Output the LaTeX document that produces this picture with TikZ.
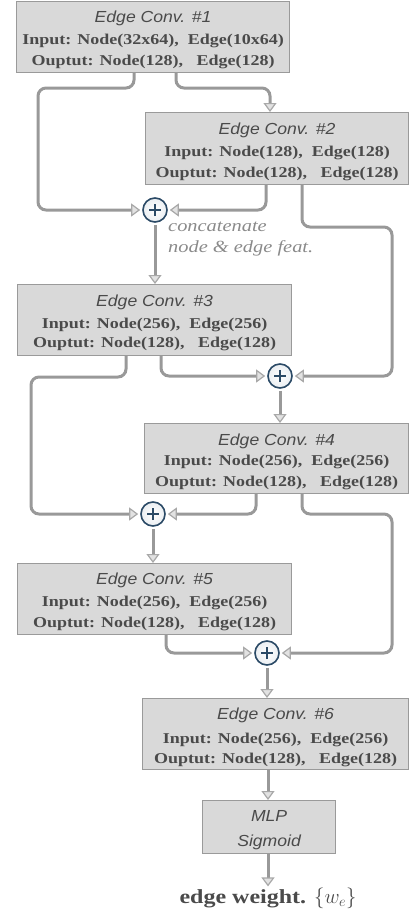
\documentclass[tikz,border=0pt]{standalone}
\usepackage{fontspec}
\setmainfont{Liberation Serif}
\setsansfont{Liberation Sans}
\newfontfamily\contfont[FakeStretch=1.2]{Liberation Serif}
\newfontfamily\titlefont[FakeStretch=1.1]{Liberation Sans}
\usetikzlibrary{arrows.meta,calc}
\definecolor{boxfill}{HTML}{D9D9D9}
\definecolor{boxline}{HTML}{9A9A9A}
\definecolor{connc}{HTML}{999999}
\definecolor{tipfill}{HTML}{E2E2E2}
\definecolor{tipline}{HTML}{A8A8A8}
\definecolor{txt}{HTML}{4A4A4A}
\definecolor{notec}{HTML}{8A8A8A}
\definecolor{plusline}{HTML}{2B4A66}
\definecolor{plusfill}{HTML}{DCE5EE}
\newcommand{\ttl}[1]{{\titlefont\itshape\mdseries\fontsize{16}{18}\selectfont\rule{0pt}{17.5pt}#1}}
\tikzset{
  layer/.style={draw=boxline, fill=boxfill, line width=1.2pt, inner sep=0pt,
    anchor=north west, align=center, text=txt,
    font=\contfont\fontsize{15}{21}\selectfont\bfseries},
  conn/.style={draw=connc, line width=3pt, rounded corners=8pt,
    -{Triangle[length=9pt,width=13pt,fill=tipfill,color=tipline,line width=1.2pt]}},
  plus/.style={circle, draw=plusline, line width=1.6pt, inner color=white,
    outer color=plusfill!80!plusline!30, minimum size=24pt, inner sep=0pt,
    path picture={
      \draw[plusline, line width=2.8pt]
        ([xshift=-6pt]path picture bounding box.center) -- ([xshift=6pt]path picture bounding box.center)
        ([yshift=-6pt]path picture bounding box.center) -- ([yshift=6pt]path picture bounding box.center);}},
}
\begin{document}
\begin{tikzpicture}[x=1pt,y=-1pt]
\useasboundingbox (0,0) rectangle (409,911);

\node[layer, minimum width=273pt, minimum height=71pt] (b1) at (16,1)
  {\ttl{Edge Conv. \#1}\\[1pt] Input: Node(32x64),\ \ Edge(10x64)\\ Ouptut: Node(128),\ \ \ Edge(128)};
\node[layer, minimum width=263pt, minimum height=72pt] (b2) at (145,112)
  {\ttl{Edge Conv. \#2}\\[1pt] Input: Node(128),\ \ Edge(128)\\ Ouptut: Node(128),\ \ \ Edge(128)};
\node[layer, minimum width=274pt, minimum height=71pt] (b3) at (17,284)
  {\ttl{Edge Conv. \#3}\\[1pt] Input: Node(256),\ \ Edge(256)\\[-2pt] Ouptut: Node(128),\ \ \ Edge(128)};
\node[layer, minimum width=264pt, minimum height=70pt] (b4) at (144,423)
  {\ttl{Edge Conv. \#4}\\[-1pt] Input: Node(256),\ \ Edge(256)\\ Ouptut: Node(128),\ \ \ Edge(128)};
\node[layer, minimum width=274pt, minimum height=71pt] (b5) at (17,563)
  {\ttl{Edge Conv. \#5}\\[1pt] Input: Node(256),\ \ Edge(256)\\ Ouptut: Node(128),\ \ \ Edge(128)};
\node[layer, minimum width=266pt, minimum height=71pt] (b6) at (142,698)
  {\ttl{Edge Conv. \#6}\\[3pt] Input: Node(256),\ \ Edge(256)\\[-1pt] Ouptut: Node(128),\ \ \ Edge(128)};
\node[layer, minimum width=133pt, minimum height=53pt] (mlp) at (202,800)
  {\ttl{MLP}\\[4pt] \ttl{Sigmoid}};

\node[plus] (p1) at (155,210) {};
\node[plus] (p2) at (280,376) {};
\node[plus] (p3) at (153,514) {};
\node[plus] (p4) at (267,653) {};

\node[anchor=north west, align=left, text=notec, inner sep=0pt,
  font=\contfont\fontsize{17}{21}\selectfont\itshape] (note) at (168,222)
  {concatenate\\ node \& edge feat.};

\node[text=txt, inner sep=0pt, font=\contfont\fontsize{20}{22}\selectfont\bfseries] (out) at (268,898)
  {edge weight. $\{w_e\}$};

% connectors
\draw[conn, shorten >=2pt] (134,0 |- b1.south) -- (134,88) -- (38,88) -- (38,210) -- (p1.west);
\draw[conn] (176,0 |- b1.south) -- (176,88) -- (270,88) -- (270,0 |- b2.north);
\draw[conn, shorten >=2pt] (266,0 |- b2.south) -- (266,210) -- (p1.east);
\draw[conn, shorten >=2pt] (302,0 |- b2.south) -- (302,227) -- (392,227) -- (392,376) -- (p2.east);
\draw[conn, shorten <=2pt] (p1.south) -- (155,0 |- b3.north);
\draw[conn, shorten >=2pt] (126,0 |- b3.south) -- (126,377) -- (31,377) -- (31,514) -- (p3.west);
\draw[conn, shorten >=2pt] (161,0 |- b3.south) -- (161,376) -- (p2.west);
\draw[conn, shorten <=2pt] (p2.south) -- (280,0 |- b4.north);
\draw[conn, shorten >=2pt] (256,0 |- b4.south) -- (256,514) -- (p3.east);
\draw[conn, shorten >=2pt] (302,0 |- b4.south) -- (302,514) -- (392,514) -- (392,653) -- (p4.east);
\draw[conn, shorten <=2pt] (p3.south) -- (153,0 |- b5.north);
\draw[conn, shorten >=2pt] (166,0 |- b5.south) -- (166,653) -- (p4.west);
\draw[conn, shorten <=2pt] (p4.south) -- (267,0 |- b6.north);
\draw[conn] (268,0 |- b6.south) -- (268,0 |- mlp.north);
\draw[conn, shorten >=1pt] (268,0 |- mlp.south) -- (268,0 |- out.north);
\end{tikzpicture}
\end{document}
